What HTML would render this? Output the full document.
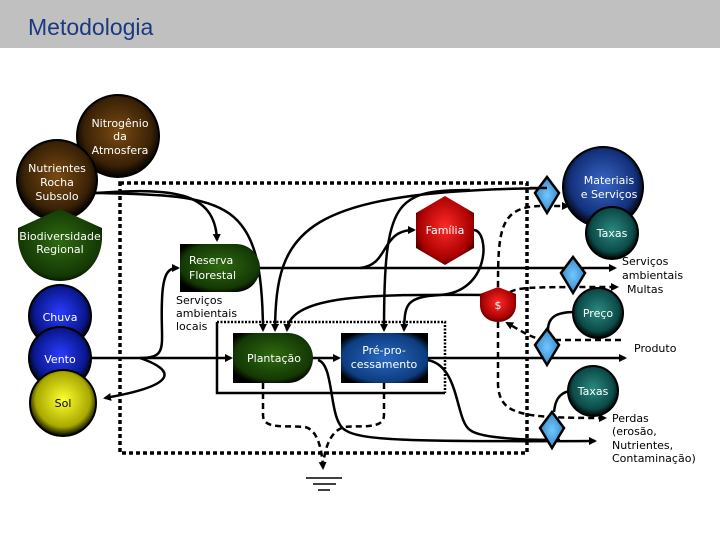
<!DOCTYPE html>
<html><head><meta charset="utf-8"><style>
body{margin:0;width:720px;height:540px;overflow:hidden;background:#fff}
svg{display:block}
text{font-family:"DejaVu Sans","Liberation Sans",sans-serif;font-size:11px}
</style></head><body>
<svg width="720" height="540" viewBox="0 0 720 540">
<defs>
<radialGradient id="br" cx="50%" cy="45%" r="55%"><stop offset="0" stop-color="#7a4a12"/><stop offset="0.75" stop-color="#3a2206"/><stop offset="1" stop-color="#000"/></radialGradient>
<radialGradient id="gr" cx="50%" cy="45%" r="60%"><stop offset="0" stop-color="#2f6a10"/><stop offset="0.8" stop-color="#143805"/><stop offset="1" stop-color="#000"/></radialGradient>
<radialGradient id="bl" cx="50%" cy="45%" r="55%"><stop offset="0" stop-color="#2a3cff"/><stop offset="0.75" stop-color="#0a1890"/><stop offset="1" stop-color="#000"/></radialGradient>
<radialGradient id="ye" cx="50%" cy="45%" r="55%"><stop offset="0" stop-color="#ffff30"/><stop offset="0.75" stop-color="#a8a800"/><stop offset="1" stop-color="#000"/></radialGradient>
<radialGradient id="db" cx="50%" cy="45%" r="55%"><stop offset="0" stop-color="#3a68c8"/><stop offset="0.75" stop-color="#13307a"/><stop offset="1" stop-color="#000"/></radialGradient>
<radialGradient id="te" cx="50%" cy="45%" r="55%"><stop offset="0" stop-color="#2a8a80"/><stop offset="0.75" stop-color="#0c4a48"/><stop offset="1" stop-color="#000"/></radialGradient>
<radialGradient id="re" cx="50%" cy="45%" r="60%"><stop offset="0" stop-color="#ff2a2a"/><stop offset="0.75" stop-color="#a00"/><stop offset="1" stop-color="#300"/></radialGradient>
<radialGradient id="pb" cx="50%" cy="50%" r="60%"><stop offset="0" stop-color="#2a68c0"/><stop offset="0.8" stop-color="#0d3d80"/><stop offset="1" stop-color="#000"/></radialGradient>
<radialGradient id="dm" cx="50%" cy="50%" r="50%"><stop offset="0" stop-color="#70c8ff"/><stop offset="1" stop-color="#3a8ac8"/></radialGradient>
<marker id="a" markerWidth="8" markerHeight="8" refX="6" refY="4" orient="auto" markerUnits="userSpaceOnUse"><path d="M0,0 L8,4 L0,8 z" fill="#000"/></marker>
</defs>
<rect x="0" y="0" width="720" height="48" fill="#c0c0c0"/>
<text x="28" y="35" style="font-family:'Liberation Sans',sans-serif;font-size:23px" fill="#1a3a80">Metodologia</text>

<rect x="120" y="183" width="407" height="270" fill="none" stroke="#000" stroke-width="3.5" stroke-dasharray="4,3"/>
<path d="M217,322 H445 V393" fill="none" stroke="#000" stroke-width="2.5" stroke-dasharray="2,1.5"/>
<path d="M217,322 V393 H445" fill="none" stroke="#000" stroke-width="2.5"/>

<g fill="none" stroke="#000" stroke-width="2.5">
<path d="M95,193 C170,188 215,190 217,240" marker-end="url(#a)"/>
<path d="M95,193 C230,195 262,200 263,330" marker-end="url(#a)"/>
<path d="M555,188 C300,190 276,230 275,330" marker-end="url(#a)"/>
<path d="M500,295 C400,295 290,290 287,330" marker-end="url(#a)"/>
<path d="M258,268 H615" marker-end="url(#a)"/>
<path d="M360,268 C390,265 380,230 414,230" marker-end="url(#a)"/>
<path d="M474,230 C490,232 490,292 440,295 C405,297 405,305 404,330" marker-end="url(#a)"/>
<path d="M470,190 C395,190 384,200 384,330" marker-end="url(#a)"/>
<path d="M90,358 H231" marker-end="url(#a)"/>
<path d="M140,358 C170,358 160,345 162,300 C163,270 170,268 178,268" marker-end="url(#a)"/>
<path d="M140,358 C175,370 180,385 105,398" marker-end="url(#a)"/>
<path d="M312,358 H339" marker-end="url(#a)"/>
<path d="M427,358 H625" marker-end="url(#a)"/>
<path d="M318,360 C335,365 328,420 345,430 C360,440 400,442 595,441" marker-end="url(#a)"/>
<path d="M427,360 C460,365 455,420 470,430 C480,438 520,440 560,440"/>
<path d="M575,312 C555,312 548,318 548,330"/>
<path d="M570,391 C558,393 555,402 554,412"/>
</g>
<g fill="none" stroke="#000" stroke-width="2.5" stroke-dasharray="6,4">
<path d="M263,383 V415 C263,430 285,425 305,427 C318,430 322,450 323,468" marker-end="url(#a)"/>
<path d="M384,383 V415 C384,430 360,425 345,427 C330,430 324,450 323,468"/>
<path d="M498,287 C498,230 500,207 540,206 L568,206" marker-end="url(#a)"/>
<path d="M510,292 C520,287 530,287 617,287" marker-end="url(#a)"/>
<path d="M498,322 V385 C500,415 520,418 605,418" marker-end="url(#a)"/>
<path d="M545,340 H625"/>
<path d="M545,340 C530,338 520,330 507,323" marker-end="url(#a)"/>
</g>

<g stroke="#000" stroke-width="1.5"><line x1="306" y1="478" x2="342" y2="478"/><line x1="313" y1="484" x2="336" y2="484"/><line x1="318" y1="490" x2="330" y2="490"/></g>

<g stroke="#000" stroke-width="2">
<circle cx="118" cy="136" r="41" fill="url(#br)"/>
<circle cx="57" cy="180" r="40" fill="url(#br)"/>
</g>
<text x="120" y="127" fill="#fff" text-anchor="middle">Nitrogênio</text>
<text x="120" y="140" fill="#fff" text-anchor="middle">da</text>
<text x="120" y="154" fill="#fff" text-anchor="middle">Atmosfera</text>
<text x="57" y="172" fill="#fff" text-anchor="middle">Nutrientes</text>
<text x="57" y="186" fill="#fff" text-anchor="middle">Rocha</text>
<text x="57" y="200" fill="#fff" text-anchor="middle">Subsolo</text>
<path d="M60,209 L102,228 L102,240 C100,265 82,281 60,281 C38,281 20,265 18,240 L18,228 Z" fill="url(#gr)"/>
<text x="60" y="240" fill="#fff" text-anchor="middle" font-size="10.5">Biodiversidade</text>
<text x="60" y="253" fill="#fff" text-anchor="middle" font-size="10.5">Regional</text>
<g stroke="#000" stroke-width="2">
<circle cx="60" cy="316" r="31" fill="url(#bl)"/>
<circle cx="60" cy="358" r="31" fill="url(#bl)"/>
<circle cx="63" cy="403" r="33" fill="url(#ye)"/>
</g>
<text x="60" y="321" fill="#fff" text-anchor="middle">Chuva</text>
<text x="60" y="363" fill="#fff" text-anchor="middle">Vento</text>
<text x="63" y="407" fill="#000" text-anchor="middle">Sol</text>

<path d="M180,244 H236 A24,24 0 0 1 236,292 H180 Z" fill="url(#gr)"/>
<text x="189" y="264" fill="#fff">Reserva</text>
<text x="189" y="279" fill="#fff">Florestal</text>
<text x="176" y="304" fill="#000">Serviços</text>
<text x="176" y="317" fill="#000">ambientais</text>
<text x="176" y="330" fill="#000">locais</text>
<path d="M233,333 H288 A25,25 0 0 1 288,383 H233 Z" fill="url(#gr)"/>
<text x="247" y="362" fill="#fff">Plantação</text>
<rect x="341" y="333" width="87" height="50" fill="url(#pb)"/>
<text x="384" y="354" fill="#fff" text-anchor="middle">Pré-pro-</text>
<text x="384" y="368" fill="#fff" text-anchor="middle">cessamento</text>
<path d="M445,196 L474,213 L474,248 L445,265 L416,248 L416,213 Z" fill="url(#re)"/>
<text x="445" y="234" fill="#fff" text-anchor="middle" font-size="10.5">Família</text>
<path d="M498,287 L516,294 L516,305 C516,315 508,322 498,322 C488,322 480,315 480,305 L480,294 Z" fill="url(#re)"/>
<text x="498" y="309" fill="#fff" text-anchor="middle">$</text>

<g fill="url(#dm)" stroke="#000" stroke-width="2.5">
<path d="M547,177 L559,193 L547,213 L535,193 Z"/>
<path d="M573,257 L585,273 L573,293 L561,273 Z"/>
<path d="M547,329 L559,345 L547,365 L535,345 Z"/>
<path d="M552,412 L564,428 L552,448 L540,428 Z"/>
</g>
<line x1="530" y1="188" x2="547" y2="188" stroke="#000" stroke-width="2.5"/>

<g stroke="#000" stroke-width="2">
<circle cx="603" cy="187" r="40" fill="url(#db)"/>
<circle cx="612" cy="233" r="26" fill="url(#te)"/>
<circle cx="598" cy="313" r="25" fill="url(#te)"/>
<circle cx="593" cy="391" r="25" fill="url(#te)"/>
</g>
<text x="609" y="184" fill="#fff" text-anchor="middle">Materiais</text>
<text x="609" y="198" fill="#fff" text-anchor="middle">e Serviços</text>
<text x="612" y="237" fill="#fff" text-anchor="middle">Taxas</text>
<text x="598" y="317" fill="#fff" text-anchor="middle">Preço</text>
<text x="593" y="395" fill="#fff" text-anchor="middle">Taxas</text>
<text x="622" y="265" fill="#000">Serviços</text>
<text x="622" y="279" fill="#000">ambientais</text>
<text x="627" y="293" fill="#000">Multas</text>
<text x="634" y="352" fill="#000">Produto</text>
<text x="612" y="422" fill="#000">Perdas</text>
<text x="612" y="435" fill="#000">(erosão,</text>
<text x="612" y="449" fill="#000">Nutrientes,</text>
<text x="612" y="462" fill="#000">Contaminação)</text>
</svg>
</body></html>
